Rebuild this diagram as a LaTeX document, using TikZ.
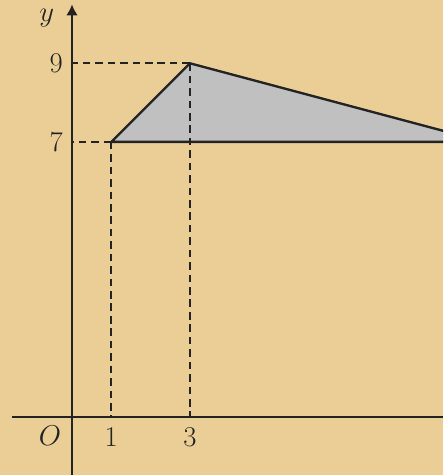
\documentclass[tikz,border=0pt]{standalone}
\usepackage{xcolor}
\definecolor{papyrus}{RGB}{234,206,150}
\definecolor{trigray}{RGB}{192,192,192}
\definecolor{inkgray}{RGB}{35,35,35}
\usetikzlibrary{arrows.meta}

\begin{document}
\begin{tikzpicture}[
  axis/.style={line width=1.5pt, inkgray},
  guide/.style={line width=1.4pt, inkgray, dash pattern=on 5.5pt off 3.5pt},
  lbl/.style={font=\fontsize{20}{24}\selectfont, inkgray, inner sep=0pt}
]
  % Background
  \fill[papyrus] (-1.832,-1.476) rectangle (9.44,10.61);
  \useasboundingbox (-1.832,-1.476) rectangle (9.44,10.61);

  % --- Points ---
  \coordinate (O) at (0,0);
  \coordinate (A) at (1,7);
  \coordinate (B) at (3,9);
  \coordinate (C) at (10.5,7);
  \coordinate (xstart) at (-1.53,0);
  \coordinate (xend) at (9.44,0);
  \coordinate (ystart) at (0,-1.476);
  \coordinate (yend) at (0,10.5);

  % --- Triangle ---
  \begin{scope}
    \clip (-1.832,-1.476) rectangle (9.44,10.61);
    \filldraw[fill=trigray, draw=inkgray, line width=1.7pt, line join=round] (A) -- (B) -- (C) -- cycle;
  \end{scope}

  % --- Guides ---
  \draw[guide] (A) -- (A |- O);
  \draw[guide] (A) -- (A -| O);
  \draw[guide] (B) -- (B |- O);
  \draw[guide] (B) -- (B -| O);

  % --- Axes ---
  \draw[axis] (xstart) -- (xend);
  \draw[axis, -{Latex[length=8pt,width=8.5pt]}] (ystart) -- (yend);

  % --- Labels ---
  \node[lbl] (ylab) at (-0.64,10.15) {$y$};
  \node[lbl] (olab) at (-0.56,-0.47) {$O$};
  \node[lbl] (tick1) at (1,-0.52) {$1$};
  \node[lbl] (tick3) at (3,-0.52) {$3$};
  \node[lbl] (tick9) at (-0.4,9) {$9$};
  \node[lbl] (tick7) at (-0.4,7) {$7$};
\end{tikzpicture}
\end{document}
